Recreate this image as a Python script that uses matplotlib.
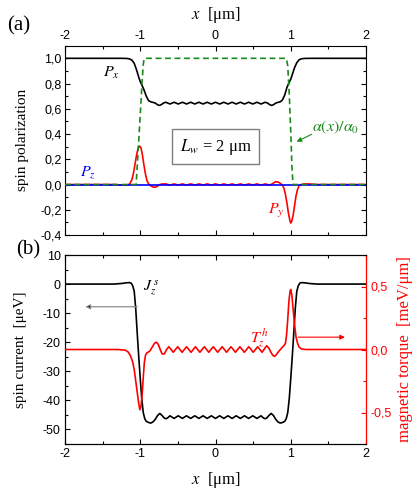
import matplotlib
matplotlib.use('Agg')
import matplotlib.pyplot as plt
from matplotlib.ticker import MultipleLocator, FuncFormatter

plt.rcParams['font.family'] = ['Liberation Serif', 'DejaVu Serif']
plt.rcParams['mathtext.fontset'] = 'stix'
plt.rcParams['axes.unicode_minus'] = False

# ---------------- data ----------------
# panel (a): spin polarization components
Px_x = [-2.0, -1.25, -1.18, -1.14, -1.11, -1.08, -1.05, -1.02, -1.0, -0.98, -0.95, -0.92, -0.89,
        -0.86, -0.83, -0.80, -0.77, -0.745, -0.72, -0.69,
        -0.660, -0.633, -0.605, -0.578, -0.550, -0.523, -0.495, -0.468,
        -0.440, -0.413, -0.385, -0.358, -0.330, -0.303, -0.275, -0.248,
        -0.220, -0.193, -0.165, -0.138, -0.110, -0.083, -0.055, -0.028,
        0.000,
        0.028, 0.055, 0.083, 0.110, 0.138, 0.165, 0.193, 0.220,
        0.248, 0.275, 0.303, 0.330, 0.358, 0.385, 0.413, 0.440,
        0.468, 0.495, 0.523, 0.550, 0.578, 0.605, 0.633, 0.660,
        0.69, 0.72, 0.745, 0.77, 0.80, 0.83, 0.86, 0.89, 0.92, 0.95, 0.98, 1.0, 1.02,
        1.05, 1.08, 1.11, 1.14, 1.18, 1.25, 2.0]
Px_y = [1.0, 1.0, 0.999, 0.995, 0.985, 0.96, 0.91, 0.85, 0.815, 0.79, 0.75, 0.70, 0.665,
        0.655, 0.651, 0.645, 0.632, 0.627, 0.633, 0.646,
        0.652, 0.645, 0.638, 0.645, 0.652, 0.645, 0.638, 0.645,
        0.652, 0.645, 0.638, 0.645, 0.652, 0.645, 0.638, 0.645,
        0.652, 0.645, 0.638, 0.645, 0.652, 0.645, 0.638, 0.645,
        0.652,
        0.645, 0.638, 0.645, 0.652, 0.645, 0.638, 0.645, 0.652,
        0.645, 0.638, 0.645, 0.652, 0.645, 0.638, 0.645, 0.652,
        0.645, 0.638, 0.645, 0.652, 0.645, 0.638, 0.645, 0.652,
        0.646, 0.633, 0.627, 0.632, 0.645, 0.651, 0.655, 0.67, 0.71, 0.77, 0.81, 0.835, 0.87,
        0.925, 0.965, 0.988, 0.996, 0.999, 1.0, 1.0]

Py_x = [-2.0, -1.35, -1.28, -1.22, -1.17, -1.14, -1.11, -1.09, -1.07, -1.05, -1.03, -1.01,
        -0.99, -0.97, -0.95, -0.93, -0.91, -0.89, -0.86, -0.83, -0.80, -0.77, -0.74, -0.71,
        -0.660, -0.633, -0.605, -0.578, -0.550, -0.523, -0.495, -0.468,
        -0.440, -0.413, -0.385, -0.358, -0.330, -0.303, -0.275, -0.248,
        -0.220, -0.193, -0.165, -0.138, -0.110, -0.083, -0.055, -0.028,
        0.000,
        0.028, 0.055, 0.083, 0.110, 0.138, 0.165, 0.193, 0.220,
        0.248, 0.275, 0.303, 0.330, 0.358, 0.385, 0.413, 0.440,
        0.468, 0.495, 0.523, 0.550, 0.578, 0.605, 0.633, 0.660,
        0.71, 0.74, 0.77, 0.80, 0.83, 0.86, 0.89, 0.91, 0.93, 0.95, 0.97, 0.99, 1.0,
        1.01, 1.03, 1.05, 1.07, 1.09, 1.11, 1.14, 1.17, 1.22, 1.28, 1.35, 2.0]
Py_y = [0.0, 0.0, -0.003, -0.005, -0.004, 0.005, 0.04, 0.09, 0.16, 0.23, 0.285, 0.305,
        0.29, 0.23, 0.15, 0.08, 0.03, 0.005, -0.01, -0.02, -0.022, -0.012, 0.0, 0.004,
        0.005, 0.0, -0.005, 0.0, 0.005, 0.0, -0.005, 0.0,
        0.005, 0.0, -0.005, 0.0, 0.005, 0.0, -0.005, 0.0,
        0.005, 0.0, -0.005, 0.0, 0.005, 0.0, -0.005, 0.0,
        0.005,
        0.0, -0.005, 0.0, 0.005, 0.0, -0.005, 0.0, 0.005,
        0.0, -0.005, 0.0, 0.005, 0.0, -0.005, 0.0, 0.005,
        0.0, -0.005, 0.0, 0.005, 0.0, -0.005, 0.0, 0.005,
        -0.004, 0.0, 0.012, 0.022, 0.02, 0.01, -0.005, -0.03, -0.08, -0.15, -0.23, -0.29, -0.305,
        -0.295, -0.25, -0.17, -0.09, -0.04, -0.01, 0.0, 0.004, 0.005, 0.003, 0.0, 0.0]

Pz_x = [-2.0, 2.0]
Pz_y = [0.0, 0.0]

alpha_x = [-2.0, -1.055, -1.03, -1.0, -0.975, -0.96, -0.948, 0.942, 0.96, 0.98, 1.0, 1.015, 1.03, 2.0]
alpha_y = [0.0, 0.0, 0.25, 0.55, 0.82, 0.95, 1.0, 1.0, 0.94, 0.72, 0.42, 0.15, 0.0, 0.0]

# panel (b): spin current (left axis) and magnetic torque (right axis)
Jz_x = [-2.0, -1.35, -1.25, -1.18, -1.14, -1.12, -1.10, -1.08, -1.06, -1.04, -1.02, -1.0,
        -0.98, -0.96, -0.94, -0.92, -0.89, -0.86, -0.83, -0.80, -0.77, -0.74, -0.71, -0.68,
        -0.655, -0.63,
        -0.605, -0.578, -0.550, -0.523, -0.495, -0.468, -0.440, -0.413, -0.385, -0.358,
        -0.330, -0.303, -0.275, -0.248, -0.220, -0.193, -0.165, -0.138, -0.110, -0.083,
        -0.055, -0.028, 0.000, 0.028, 0.055, 0.083, 0.110, 0.138, 0.165, 0.193, 0.220,
        0.248, 0.275, 0.303, 0.330, 0.358, 0.385, 0.413, 0.440, 0.468, 0.495, 0.523,
        0.550, 0.578, 0.605,
        0.63, 0.655, 0.68, 0.71, 0.74, 0.77, 0.80, 0.83, 0.86, 0.89, 0.92, 0.94, 0.96,
        0.98, 1.0, 1.02, 1.04, 1.06, 1.08, 1.10, 1.12, 1.14, 1.18, 1.25, 1.35, 2.0]
Jz_y = [0.0, 0.0, 0.2, 0.45, 0.5, 0.3, -0.6, -2.5, -8.5, -17.0, -25.0, -32.5,
        -39.5, -44.2, -46.3, -47.2, -47.6, -47.8, -47.4, -46.5, -45.2, -44.5, -45.2, -46.1,
        -46.3, -45.9,
        -45.3, -45.75, -46.2, -45.75, -45.3, -45.75, -46.2, -45.75, -45.3, -45.75,
        -46.2, -45.75, -45.3, -45.75, -46.2, -45.75, -45.3, -45.75, -46.2, -45.75,
        -45.3, -45.75, -46.2, -45.75, -45.3, -45.75, -46.2, -45.75, -45.3, -45.75, -46.2,
        -45.75, -45.3, -45.75, -46.2, -45.75, -45.3, -45.75, -46.2, -45.75, -45.3, -45.75,
        -46.2, -45.75, -45.3,
        -45.9, -46.3, -46.1, -45.2, -44.5, -45.2, -46.5, -47.4, -47.8, -47.6, -47.2, -46.3, -44.2,
        -39.5, -32.5, -25.0, -17.0, -8.5, -2.5, -0.6, 0.3, 0.5, 0.45, 0.2, 0.0, 0.0]

Tz_x = [-2.0, -1.3, -1.2, -1.16, -1.13, -1.10, -1.08, -1.06, -1.04, -1.02, -1.005, -0.99,
        -0.975, -0.96, -0.945, -0.93, -0.91, -0.89, -0.87, -0.84, -0.81, -0.785, -0.76,
        -0.735, -0.71, -0.68, -0.65,
        -0.620, -0.591, -0.561, -0.532, -0.502, -0.473, -0.443, -0.414, -0.384, -0.355,
        -0.325, -0.296, -0.266, -0.237, -0.207, -0.178, -0.148, -0.119, -0.089, -0.060,
        -0.030, 0.000, 0.029, 0.059, 0.088, 0.118, 0.147, 0.177, 0.206, 0.236, 0.265,
        0.295, 0.324, 0.354, 0.383, 0.413, 0.442, 0.472, 0.501, 0.531, 0.560, 0.590, 0.619,
        0.65, 0.68, 0.71, 0.735, 0.76, 0.785, 0.81, 0.84, 0.87, 0.89, 0.91, 0.93, 0.945,
        0.96, 0.975, 0.99, 1.0, 1.015, 1.03, 1.05, 1.07, 1.09, 1.11, 1.14, 1.2, 1.3, 2.0]
Tz_y = [0.0, 0.0, -0.005, -0.02, -0.05, -0.1, -0.16, -0.25, -0.34, -0.43, -0.478, -0.45,
        -0.36, -0.22, -0.1, -0.045, -0.025, -0.02, -0.01, 0.02, 0.05, 0.058, 0.04,
        0.0, -0.035, -0.035, 0.0,
        0.022, 0.0, -0.022, 0.0, 0.022, 0.0, -0.022, 0.0, 0.022, 0.0,
        -0.022, 0.0, 0.022, 0.0, -0.022, 0.0, 0.022, 0.0, -0.022, 0.0,
        0.022, 0.0, -0.022, 0.0, 0.022, 0.0, -0.022, 0.0, 0.022, 0.0, -0.022,
        0.0, 0.022, 0.0, -0.022, 0.0, 0.022, 0.0, -0.022, 0.0, 0.022, 0.0, -0.022,
        0.005, 0.03, 0.01, -0.02, -0.045, -0.055, -0.04, -0.015, 0.005, 0.02, 0.03, 0.05, 0.12,
        0.24, 0.38, 0.46, 0.476, 0.43, 0.33, 0.2, 0.1, 0.05, 0.02, 0.005, 0.0, 0.0, 0.0]

x_ticks = [-2, -1, 0, 1, 2]

# ---------------- figure ----------------
W, H = 416, 493
fig = plt.figure(figsize=(W / 100, H / 100), dpi=100)
ax1 = fig.add_axes([65 / W, 1 - 235 / H, 301 / W, (235 - 45.7) / H])
ax2 = fig.add_axes([65 / W, 1 - 444 / H, 301 / W, 189 / H])
ax2r = ax2.twinx()

tick_font = 'Liberation Sans'
tfs = 9
comma1 = FuncFormatter(lambda v, p: f'{v:.1f}'.replace('.', ','))
intfmt = FuncFormatter(lambda v, p: f'{v:.0f}')

# ---- panel (a)
ax1.plot(Px_x, Px_y, color='black', lw=1.2, zorder=3)
ax1.plot(Py_x, Py_y, color='#ff0000', lw=1.2, zorder=3)
ax1.plot(Pz_x, Pz_y, color='#0000ff', lw=1.2, zorder=4)
ax1.plot(alpha_x, alpha_y, color='#1a8a1a', lw=1.2, ls=(0, (3.5, 2.2)), zorder=5)
ax1.set_xlim(-2, 2)
ax1.set_ylim(-0.4, 1.1)
ax1.set_xticks(x_ticks)
ax1.xaxis.set_minor_locator(MultipleLocator(0.5))
ax1.yaxis.set_major_locator(MultipleLocator(0.2))
ax1.yaxis.set_minor_locator(MultipleLocator(0.1))
ax1.yaxis.set_major_formatter(comma1)
ax1.xaxis.set_major_formatter(intfmt)
ax1.tick_params(which='both', direction='in', top=True, bottom=True, left=True, right=True,
                labeltop=True, labelbottom=False, labelsize=tfs, labelfontfamily=tick_font,
                width=0.8)
ax1.tick_params(which='major', length=3.5, pad=2.5)
ax1.tick_params(which='minor', length=2.2)
ax1.xaxis.set_label_position('top')
ax1.set_xlabel(r'$x$  [μm]', fontsize=12, labelpad=8)
ax1.set_ylabel('spin polarization', fontsize=11)
ax1.yaxis.set_label_coords(-0.118, 0.5)
for s in ax1.spines.values():
    s.set_linewidth(0.8)

ax1.text(-1.495, 0.85, r'$P_x$', fontsize=11.5, color='black')
ax1.text(-1.80, 0.072, r'$P_z$', fontsize=11.5, color='#0000ff')
ax1.text(0.70, -0.233, r'$P_y$', fontsize=11.5, color='#ff0000')
ax1.text(1.28, 0.425, r'$\alpha(x)/\alpha_0$', fontsize=11.5, color='#1a8a1a')
ax1.annotate('', xy=(1.078, 0.339), xytext=(1.278, 0.398),
             arrowprops=dict(arrowstyle='-|>', color='#1a8a1a', lw=0.8,
                             mutation_scale=7, shrinkA=0, shrinkB=0))
ax1.text(0.0, 0.30, r'$L_w$ = 2 μm', fontsize=12, ha='center', va='center',
         bbox=dict(boxstyle='square,pad=0.45', fc='white', ec='#7f7f7f', lw=1.0), zorder=6)

# ---- panel (b)
ax2.plot(Jz_x, Jz_y, color='black', lw=1.2, zorder=3)
ax2r.plot(Tz_x, Tz_y, color='#ff0000', lw=1.2, zorder=3)
ax2.set_xlim(-2, 2)
ax2.set_ylim(-55, 10)
ax2r.set_ylim(-0.75, 0.75)
ax2.set_xticks(x_ticks)
ax2.xaxis.set_minor_locator(MultipleLocator(0.5))
ax2.yaxis.set_major_locator(MultipleLocator(10))
ax2.yaxis.set_minor_locator(MultipleLocator(5))
ax2.xaxis.set_major_formatter(intfmt)
ax2.yaxis.set_major_formatter(intfmt)
ax2r.yaxis.set_major_locator(MultipleLocator(0.5))
ax2r.yaxis.set_minor_locator(MultipleLocator(0.25))
ax2r.yaxis.set_major_formatter(comma1)
ax2.tick_params(which='both', direction='in', top=True, bottom=True, left=True, right=False,
                labelsize=tfs, labelfontfamily=tick_font, width=0.8)
ax2.tick_params(which='major', length=3.5, pad=3)
ax2.tick_params(which='minor', length=2.2)
ax2r.tick_params(which='both', direction='in', colors='#ff0000', labelsize=tfs,
                 labelfontfamily=tick_font, width=0.8)
ax2r.tick_params(which='major', length=3.5, pad=3)
ax2r.tick_params(which='minor', length=2.2)
ax2r.spines['right'].set_color('#ff0000')
for s in list(ax2.spines.values()) + list(ax2r.spines.values()):
    s.set_linewidth(0.8)
ax2.set_xlabel(r'$x$  [μm]', fontsize=12, labelpad=7)
ax2.set_ylabel('spin current  [μeV]', fontsize=11)
ax2.yaxis.set_label_coords(-0.125, 0.5)
ax2r.set_ylabel('magnetic torque  [meV/μm]', fontsize=12, color='#ff0000')
ax2r.yaxis.set_label_coords(1.103, 0.5)

ax2.text(-0.963, -2.1, r'$J_z^{\,s}$', fontsize=11.5, color='black')
ax2.annotate('', xy=(-1.73, -7.8), xytext=(-1.04, -7.8),
             arrowprops=dict(arrowstyle='-|>', ec='#8c8c8c', fc='black', lw=0.9,
                             mutation_scale=7, shrinkA=0, shrinkB=0))
ax2r.text(0.458, 0.056, r'$T_z^{\,h}$', fontsize=11.5, color='#ff0000')
ax2r.annotate('', xy=(1.72, 0.098), xytext=(1.10, 0.098),
              arrowprops=dict(arrowstyle='-|>', color='#ff0000', lw=0.8,
                              mutation_scale=7, shrinkA=0, shrinkB=0))

fig.text(7 / W, 1 - 25.5 / H, '(a)', fontsize=15, va='center', ha='left')
fig.text(16 / W, 1 - 250 / H, '(b)', fontsize=15, va='center', ha='left')

fig.savefig('out.png', dpi=100)
